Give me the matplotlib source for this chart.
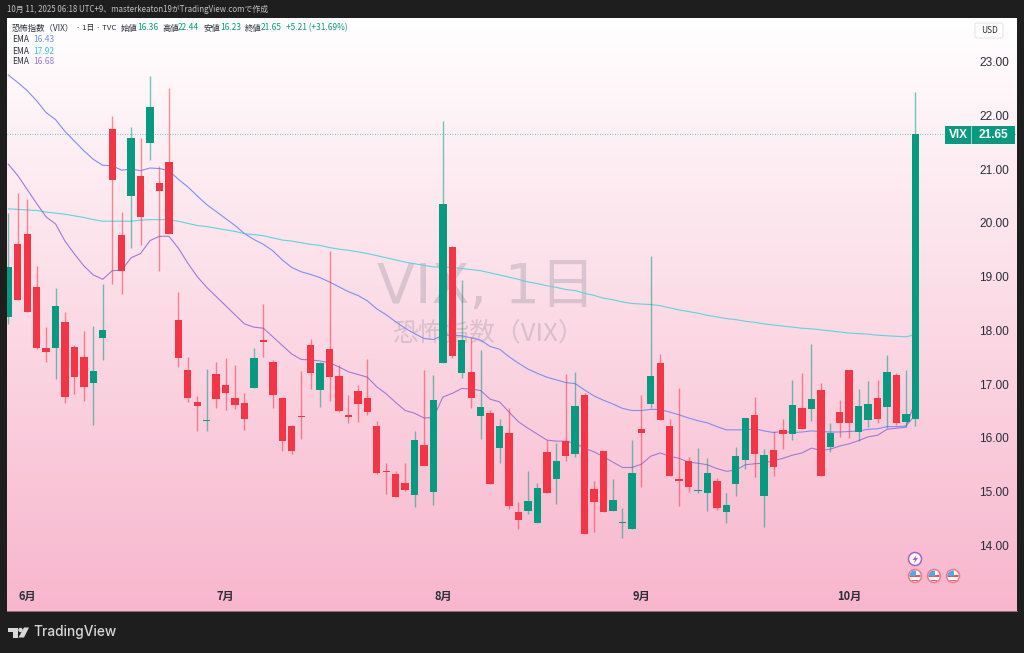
import numpy as np
import matplotlib
matplotlib.use("Agg")
import matplotlib.pyplot as plt
from matplotlib.patches import Circle, Polygon, Rectangle, FancyBboxPatch

plt.rcParams['font.family'] = ['Noto Sans CJK JP', 'DejaVu Sans']

opens = [18.24, 19.61, 19.80, 18.81, 17.68, 17.67, 18.15, 17.69, 17.50, 17.03,
         17.86, 21.74, 19.77, 20.50, 20.88, 21.48, 20.74, 21.14, 18.19, 17.27,
         16.67, 16.31, 17.18, 16.98, 16.75, 16.65, 16.92, 17.83, 17.41, 16.75,
         16.23, 16.41, 17.72, 16.89, 17.65, 17.16, 16.42, 16.87, 16.75, 16.23,
         15.39, 15.33, 15.16, 14.94, 15.86, 14.99, 17.40, 19.55, 17.20, 17.22,
         16.41, 16.47, 15.81, 16.09, 14.62, 14.65, 14.42, 15.73, 15.23, 15.95,
         15.71, 16.80, 15.05, 15.75, 14.65, 14.42, 14.30, 16.17, 16.64, 17.39,
         16.22, 15.23, 15.58, 15.02, 14.97, 15.19, 14.62, 15.14, 15.59, 16.42,
         14.92, 15.77, 16.14, 16.08, 16.55, 16.54, 16.89, 15.83, 16.48, 17.27,
         16.11, 16.34, 16.74, 16.57, 17.17, 16.30, 16.36]
highs = [20.19, 20.55, 20.44, 19.20, 18.07, 18.79, 18.35, 17.73, 17.99, 18.08,
         18.86, 21.99, 20.21, 21.79, 21.57, 22.74, 21.06, 22.50, 18.71, 17.50,
         16.78, 17.28, 17.42, 17.48, 17.36, 16.83, 17.67, 18.49, 17.44, 16.76,
         16.24, 17.24, 17.84, 17.42, 19.48, 17.36, 16.80, 16.98, 17.47, 16.31,
         15.53, 15.38, 15.53, 16.12, 17.26, 17.17, 21.89, 19.57, 18.93, 17.88,
         17.63, 16.52, 16.36, 16.56, 14.81, 15.38, 15.17, 15.96, 15.90, 17.18,
         17.23, 16.83, 15.19, 15.75, 15.24, 14.69, 15.96, 16.79, 19.38, 17.56,
         16.35, 16.92, 15.65, 15.81, 15.62, 15.25, 14.97, 15.84, 16.37, 16.76,
         15.79, 16.12, 16.35, 17.08, 17.20, 17.74, 17.03, 16.28, 16.71, 17.27,
         16.91, 17.06, 17.08, 17.55, 17.20, 17.27, 22.44]
lows = [18.12, 18.56, 18.34, 17.65, 17.42, 17.09, 16.65, 16.82, 16.68, 16.24,
        17.44, 18.87, 18.67, 19.54, 19.58, 21.17, 19.10, 19.80, 17.32, 16.67,
        16.12, 16.12, 16.55, 16.52, 16.54, 16.15, 16.92, 17.51, 16.55, 15.76,
        15.71, 15.98, 16.91, 16.57, 16.69, 16.49, 16.28, 16.30, 16.43, 15.33,
        14.96, 14.91, 15.01, 14.71, 15.47, 14.75, 17.40, 17.48, 17.12, 16.56,
        15.98, 15.15, 15.53, 14.67, 14.31, 14.58, 14.42, 14.97, 14.77, 15.58,
        15.65, 14.21, 14.25, 14.62, 14.65, 14.13, 14.30, 15.09, 16.55, 16.33,
        15.29, 14.73, 15.00, 14.97, 14.64, 14.66, 14.41, 14.92, 15.43, 15.27,
        14.34, 15.30, 15.79, 15.96, 16.17, 16.32, 15.29, 15.74, 16.02, 15.99,
        15.94, 16.20, 16.28, 16.18, 16.24, 16.21, 16.23]
closes = [19.18, 18.56, 18.34, 17.68, 17.59, 18.46, 16.77, 17.14, 16.95, 17.24,
          18.00, 20.79, 19.10, 21.58, 20.11, 22.15, 20.60, 19.80, 17.48, 16.74,
          16.59, 16.33, 16.73, 16.83, 16.62, 16.36, 17.49, 17.78, 16.80, 15.94,
          15.76, 16.38, 17.20, 17.39, 17.14, 16.50, 16.39, 16.63, 16.48, 15.35,
          15.37, 14.91, 15.03, 15.96, 15.47, 16.70, 20.35, 17.52, 17.83, 16.75,
          16.57, 15.15, 16.23, 14.73, 14.48, 14.83, 15.07, 14.97, 15.57, 15.67,
          16.59, 14.21, 14.80, 14.62, 14.84, 14.44, 15.34, 16.10, 17.16, 16.33,
          15.29, 15.19, 15.09, 15.03, 15.34, 14.69, 14.75, 15.67, 16.37, 15.71,
          15.69, 15.45, 16.08, 16.62, 16.17, 16.72, 15.29, 16.10, 16.28, 16.28,
          16.60, 16.63, 16.36, 17.22, 16.28, 16.44, 21.65]

ema_blue = [22.75, 22.61, 22.46, 22.27, 22.05, 21.92, 21.70, 21.52, 21.34, 21.18,
            21.07, 21.06, 20.98, 21.00, 20.97, 21.02, 21.01, 20.97, 20.81, 20.67,
            20.50, 20.34, 20.21, 20.08, 19.95, 19.80, 19.69, 19.60, 19.48, 19.31,
            19.17, 19.09, 19.04, 18.98, 18.90, 18.81, 18.72, 18.65, 18.55, 18.40,
            18.29, 18.16, 18.04, 17.94, 17.85, 17.83, 17.91, 17.91, 17.90, 17.86,
            17.82, 17.70, 17.65, 17.51, 17.39, 17.28, 17.20, 17.13, 17.08, 17.03,
            17.01, 16.89, 16.78, 16.70, 16.63, 16.55, 16.51, 16.51, 16.53, 16.53,
            16.48, 16.43, 16.37, 16.32, 16.28, 16.21, 16.15, 16.15, 16.15, 16.17,
            16.13, 16.10, 16.12, 16.10, 16.11, 16.13, 16.12, 16.11, 16.11, 16.12,
            16.13, 16.16, 16.17, 16.21, 16.21, 16.22, 16.43]
ema_cyan = [20.26, 20.25, 20.24, 20.23, 20.20, 20.18, 20.16, 20.13, 20.10, 20.06,
            20.03, 20.03, 20.03, 20.03, 20.05, 20.06, 20.06, 20.06, 20.03, 19.99,
            19.95, 19.93, 19.90, 19.87, 19.84, 19.80, 19.78, 19.76, 19.72, 19.68,
            19.66, 19.63, 19.60, 19.58, 19.54, 19.51, 19.49, 19.46, 19.43, 19.39,
            19.35, 19.31, 19.27, 19.24, 19.21, 19.18, 19.18, 19.17, 19.15, 19.13,
            19.11, 19.07, 19.03, 18.99, 18.95, 18.90, 18.87, 18.83, 18.80, 18.76,
            18.74, 18.69, 18.65, 18.60, 18.57, 18.53, 18.50, 18.49, 18.48, 18.46,
            18.42, 18.38, 18.35, 18.32, 18.28, 18.25, 18.22, 18.20, 18.17, 18.15,
            18.12, 18.10, 18.08, 18.06, 18.04, 18.03, 18.01, 17.99, 17.97, 17.95,
            17.94, 17.93, 17.91, 17.90, 17.89, 17.88, 17.92]
ema_purple = [21.09, 20.88, 20.62, 20.36, 20.11, 19.98, 19.66, 19.42, 19.20, 19.03,
              18.95, 19.11, 19.12, 19.35, 19.43, 19.67, 19.75, 19.75, 19.53, 19.25,
              19.00, 18.80, 18.63, 18.46, 18.29, 18.12, 18.06, 18.04, 17.88, 17.72,
              17.56, 17.46, 17.45, 17.43, 17.40, 17.32, 17.23, 17.18, 17.13, 16.95,
              16.82, 16.66, 16.51, 16.46, 16.37, 16.38, 16.76, 16.83, 16.92, 16.91,
              16.88, 16.72, 16.67, 16.48, 16.30, 16.18, 16.07, 15.96, 15.94, 15.94,
              15.90, 15.81, 15.74, 15.65, 15.55, 15.45, 15.45, 15.51, 15.66, 15.72,
              15.66, 15.62, 15.55, 15.53, 15.50, 15.43, 15.38, 15.40, 15.50, 15.52,
              15.53, 15.58, 15.62, 15.68, 15.72, 15.81, 15.77, 15.79, 15.85, 15.89,
              15.95, 16.02, 16.05, 16.16, 16.18, 16.20, 16.68]

price_ticks = [14, 15, 16, 17, 18, 19, 20, 21, 22, 23]
month_pos = [2, 23, 46, 67, 89]
month_labels = ['6月', '7月', '8月', '9月', '10月']

W, H = 1024, 653
BG = '#1e1e1e'
GREEN = '#089981'
RED = '#f23645'
TEXT = '#2a2e39'

fig = plt.figure(figsize=(W / 100, H / 100), dpi=100, facecolor=BG)

# 枠はピクセルで合わせる
left, right, top, bottom = 7, 1017, 18, 611
ax = fig.add_axes([left / W, 1 - bottom / H, (right - left) / W, (bottom - top) / H])

x0, dx = 8.3, 9.448
ax.set_xlim((left - x0) / dx, (right - x0) / dx)
ax.set_ylim(22 - (bottom - 115.3) / 53.77, 22 + (115.3 - top) / 53.77)

# 背景グラデーション
c_top = np.array([255, 255, 255]) / 255
c_bot = np.array([248, 182, 205]) / 255
t = np.linspace(0, 1, 256)[:, None, None]
grad = c_top * (1 - t) + c_bot * t
ax.imshow(grad, aspect='auto', extent=[*ax.get_xlim(), ax.get_ylim()[0], ax.get_ylim()[1]],
          origin='upper', zorder=0)

ax.text(0.4747, 0.5445, 'VIX, 1日', transform=ax.transAxes, ha='center', va='center',
        fontsize=40, color='#8a8a94', alpha=0.3, zorder=1, family=['DejaVu Sans', 'Noto Sans CJK JP'])
ax.text(0.4767, 0.4655, '恐怖指数（VIX）', transform=ax.transAxes, ha='center', va='center',
        fontsize=18.5, color='#8a8a94', alpha=0.3, zorder=1)

xs = np.arange(len(closes))
ax.plot(xs, ema_cyan, color='#5fd3e0', lw=0.8, zorder=2)
ax.plot(xs, ema_blue, color='#7d8ff5', lw=0.8, zorder=2)
ax.plot(xs, ema_purple, color='#a07ad8', lw=0.8, zorder=2)

ax.axhline(closes[-1], color=GREEN, lw=0.6, ls=(0, (1, 2)), alpha=0.7, zorder=2)

# ローソク足
o = np.array(opens)
c = np.array(closes)
colors = np.where(c >= o, GREEN, RED)
ax.vlines(xs, lows, highs, colors=colors, lw=1.0, alpha=0.55, zorder=3)
ax.bar(xs, np.abs(c - o), bottom=np.minimum(o, c), width=0.78, color=colors, linewidth=0, zorder=4)

ax.set_yticks(price_ticks)
ax.set_yticklabels([f'{v:.2f}' for v in price_ticks])
ax.yaxis.tick_right()
ax.tick_params(axis='y', length=0, pad=-27, labelsize=8.6, labelcolor=TEXT)
for lab in ax.get_yticklabels():
    lab.set_family(['Liberation Sans', 'DejaVu Sans'])
ax.set_xticks(month_pos)
ax.set_xticklabels(month_labels, fontweight='bold')
ax.tick_params(axis='x', length=0, pad=-15.5, labelsize=8, labelcolor=TEXT)
for s in ['top', 'left', 'right']:
    ax.spines[s].set_visible(False)
ax.spines['bottom'].set_color('#b0789a')
ax.spines['bottom'].set_linewidth(0.6)

# ラベル、ロゴ、アイコン用の重ね描き
ov = fig.add_axes([0, 0, 1, 1], zorder=5)
ov.set_xlim(0, W)
ov.set_ylim(H, 0)
ov.axis('off')


def label(x, y, s, color=TEXT, size=6.0, **kw):
    ov.text(x, y, s, color=color, fontsize=size, va='center', ha=kw.pop('ha', 'left'), **kw)


label(7, 9, '10月 11, 2025 06:18 UTC+9、masterkeaton19がTradingView.comで作成', color='#c4c4c4', size=5.7)

label(12, 28, '恐怖指数（VIX）')
label(76, 28, '· 1日 · TVC', size=5.6)
vals_x = [121, 162, 204, 245]
names = ['始値', '高値', '安値', '終値']
vals = ['16.36', '22.44', '16.23', '21.65']
for vx, nm, vl in zip(vals_x, names, vals):
    label(vx, 28, nm)
    label(vx + 16, 28, vl, color=GREEN)
label(286, 28, '+5.21 (+31.69%)', color=GREEN)

for yy, vl, col in [(40, '16.43', '#6f8ff0'), (51, '17.92', '#35c3dc'), (62, '16.68', '#a374d8')]:
    label(12, yy, 'EMA')
    label(33, yy, vl, color=col)

ov.add_patch(FancyBboxPatch((975, 23), 28, 15, boxstyle='round,pad=0,rounding_size=2',
                            fc='white', ec='#e4e4e8', lw=0.7))
label(989, 30.5, 'USD', size=6, ha='center')

# 現在値バッジ
ov.add_patch(Rectangle((945, 126), 70, 18, fc=GREEN, ec='none'))
ov.plot([971, 971], [126, 144], color='white', lw=0.6, alpha=0.7)
label(958, 135, 'VIX', color='white', size=8.6, ha='center', fontweight='bold',
      family=['Liberation Sans', 'DejaVu Sans'])
label(993, 135, '21.65', color='white', size=8.6, ha='center', fontweight='bold',
      family=['Liberation Sans', 'DejaVu Sans'])

# イベントアイコン
ov.add_patch(Circle((915, 559), 6.5, fc='white', ec='#a45fd0', lw=1.1))
ov.add_patch(Polygon([[916.5, 555], [912.5, 560], [915, 560], [914, 563.5], [918, 558], [915.5, 558]],
                     fc='#a45fd0', ec='none'))
for fx in [915, 934, 953]:
    clip = Circle((fx, 576), 5.6, transform=ov.transData)
    ov.add_patch(Circle((fx, 576), 6.5, fc='white', ec='#f77a80', lw=1.1))
    for sy in [575, 579.5]:
        st = ov.add_patch(Rectangle((fx - 7, sy), 14, 1.8, fc='#f0555f', ec='none'))
        st.set_clip_path(clip)
    bl = ov.add_patch(Rectangle((fx - 7, 570), 8, 6, fc='#55a8e8', ec='none'))
    bl.set_clip_path(clip)

# TradingViewロゴ
logo = '#d8d8d8'
ov.add_patch(Polygon([[8, 627.5], [18, 627.5], [18, 637.5], [13, 637.5], [13, 632], [8, 632]],
                     fc=logo, ec='none'))
ov.add_patch(Circle((20.5, 630), 2.2, fc=logo, ec='none'))
ov.add_patch(Polygon([[24, 627.5], [29, 627.5], [24, 637.5], [18.5, 637.5]], fc=logo, ec='none'))
label(33, 632, 'TradingView', color=logo, size=9.9, family=['Inter', 'DejaVu Sans'], fontweight='medium')

fig.savefig('out.png', dpi=100, facecolor=BG)
